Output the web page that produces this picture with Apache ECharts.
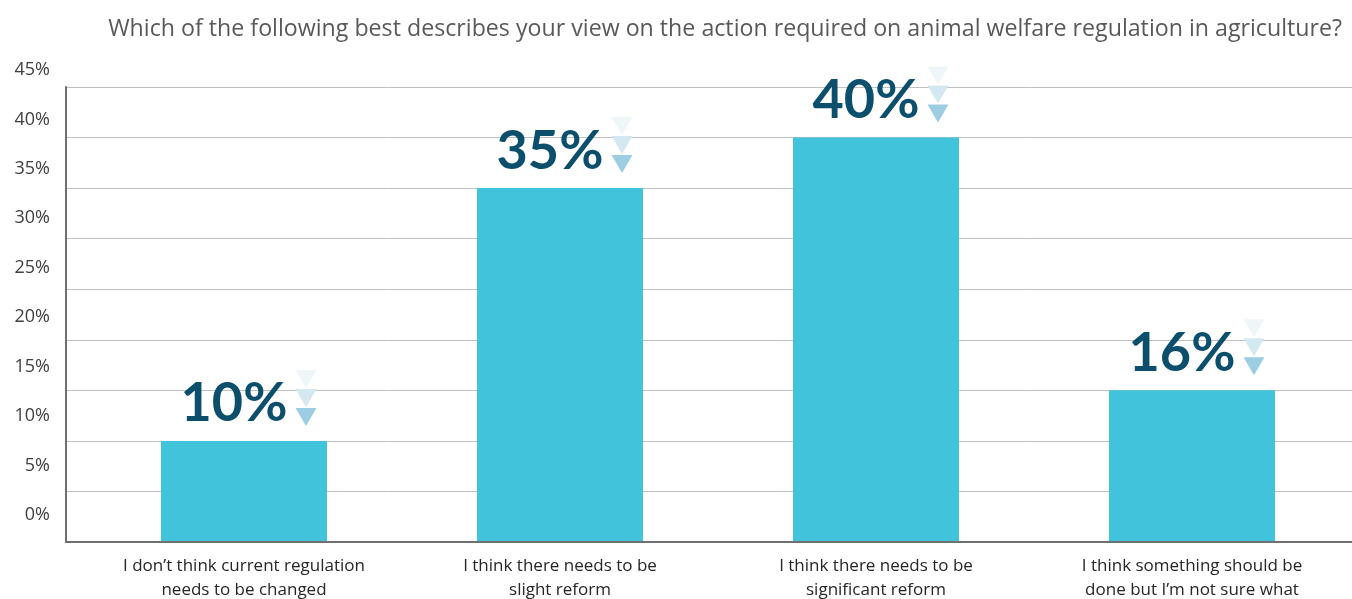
<!DOCTYPE html>
<html>
<head>
<meta charset="utf-8">
<script src="https://cdn.jsdelivr.net/npm/echarts@6/dist/echarts.min.js"></script>
<style>
html,body{margin:0;padding:0;background:#fff;}
#main{width:1352px;height:599px;}
</style>
</head>
<body>
<div id="main"></div>
<script>
const titleText = 'Which of the following best describes your view on the action required on animal welfare regulation in agriculture?';
const categories = [
  'I don\u2019t think current regulation\nneeds to be changed',
  'I think there needs to be\nslight reform',
  'I think there needs to be\nsignificant reform',
  'I think something should be\ndone but I\u2019m not sure what'
];
const values = [10, 35, 40, 15];
const valueLabels = ['10%', '35%', '40%', '16%'];
const yMin = 0, yMax = 45, yStep = 5;

const chart = echarts.init(document.getElementById('main'), null, {renderer: 'canvas'});
const FONT = "'Open Sans', sans-serif";

function triSeries(color, dy) {
  return {
    type: 'scatter', xAxisIndex: 0, yAxisIndex: 0, data: values,
    symbol: 'triangle', symbolRotate: 180, symbolSize: [21, 18],
    symbolOffset: [62, dy], itemStyle: {color: color, opacity: 1},
    silent: true, z: 4
  };
}

chart.setOption({
  animation: false,
  backgroundColor: '#ffffff',
  title: {
    text: titleText, right: 5, top: 13,
    textStyle: {fontSize: 23.2, fontWeight: 'normal', color: '#595959', fontFamily: FONT}
  },
  grid: [
    {left: 86, right: 2, top: 87, bottom: 57, outerBoundsMode: 'none', containLabel: false},
    {left: 66, right: 0, top: 87, bottom: 57, outerBoundsMode: 'none', containLabel: false},
    {left: 66, right: 0, top: 70, bottom: 84, outerBoundsMode: 'none', containLabel: false}
  ],
  xAxis: [
    {gridIndex: 0, type: 'category', data: categories,
     axisLine: {show: false}, axisTick: {show: false},
     axisLabel: {margin: 12, fontSize: 17, lineHeight: 24, color: '#262626', fontFamily: FONT, interval: 0}},
    {gridIndex: 1, type: 'value', min: 0, max: 1, z: 5,
     axisLine: {show: true, lineStyle: {color: '#6f6f6f', width: 2}},
     axisTick: {show: false}, axisLabel: {show: false}, splitLine: {show: false}},
    {gridIndex: 2, type: 'value', show: false}
  ],
  yAxis: [
    {gridIndex: 0, type: 'value', min: yMin, max: yMax, interval: yStep, show: false},
    {gridIndex: 1, type: 'value', min: yMin, max: yMax, interval: yStep,
     axisLine: {show: true, lineStyle: {color: '#6f6f6f', width: 2}},
     axisTick: {show: false}, axisLabel: {show: false},
     splitLine: {show: true, lineStyle: {color: '#bfbfbf', width: 1}}},
    {gridIndex: 2, type: 'value', min: yMin, max: yMax, interval: yStep,
     axisLine: {show: false}, axisTick: {show: false}, splitLine: {show: false},
     axisLabel: {formatter: '{value}%', fontSize: 18, color: '#404040', margin: 16, fontFamily: FONT}}
  ],
  series: [
    {
      type: 'bar', xAxisIndex: 0, yAxisIndex: 0, data: values, barWidth: 166,
      itemStyle: {color: '#42c3dc'}, z: 2,
      label: {
        show: true, position: 'top', distance: 10, offset: [-10, 0],
        formatter: p => valueLabels[p.dataIndex],
        fontSize: 54, fontWeight: 'bold', fontFamily: "Lato, 'Open Sans', sans-serif", color: '#0b4f6c'
      }
    },
    triSeries('#eef6fa', -62),
    triSeries('#d3e8f1', -43),
    triSeries('#9dcde3', -24)
  ]
});
</script>
</body>
</html>
